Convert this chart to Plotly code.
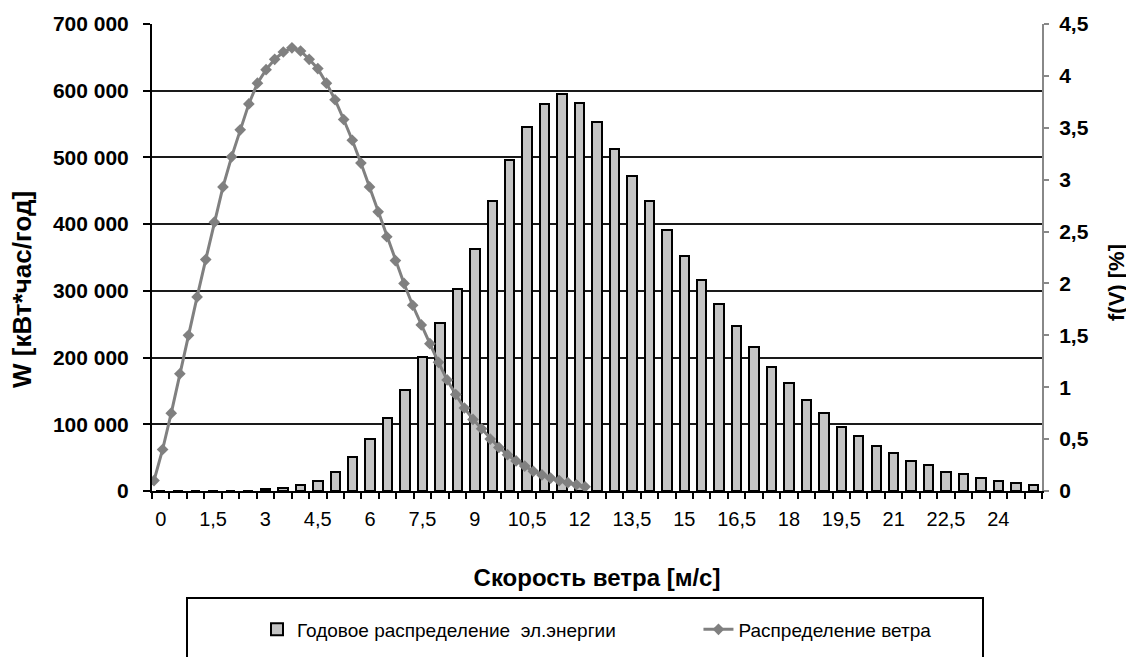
import plotly.graph_objects as go

# ---- data ----
wind_speed = [i * 0.5 for i in range(51)]  # 0 .. 25 m/s
energy_kwh = [0, 0, 0, 0, 0, 0, 2500, 4000, 9000, 15000,
              29000, 51000, 78000, 110000, 151500, 201500, 251500, 302500, 362500, 434000,
              496500, 545500, 580500, 595500, 581500, 552500, 513000, 472500, 434000, 391500,
              353000, 317000, 280500, 248000, 215500, 186500, 162500, 136500, 116500, 96500,
              82500, 68000, 57500, 45500, 39000, 29000, 25500, 19000, 15000, 11500,
              9000]
wind_freq_pct = [0.10, 0.40, 0.75, 1.13, 1.50, 1.87, 2.23, 2.59, 2.93, 3.22,
                 3.48, 3.73, 3.93, 4.06, 4.16, 4.23, 4.27, 4.24, 4.16, 4.07,
                 3.93, 3.77, 3.58, 3.38, 3.16, 2.93, 2.69, 2.45, 2.22, 2.00,
                 1.79, 1.60, 1.42, 1.24, 1.07, 0.93, 0.80, 0.69, 0.60, 0.50,
                 0.42, 0.35, 0.29, 0.24, 0.19, 0.155, 0.125, 0.10, 0.08, 0.06,
                 0.04]
x_tick_vals = [0, 1.5, 3, 4.5, 6, 7.5, 9, 10.5, 12, 13.5, 15, 16.5, 18, 19.5, 21, 22.5, 24]

name_bar = "Годовое распределение  эл.энергии"
name_line = "Распределение ветра"

FONT = "Liberation Sans, Arial, sans-serif"
NARROW = "Liberation Sans Narrow, Arial Narrow, Liberation Sans, Arial, sans-serif"

fig = go.Figure()
fig.add_trace(go.Bar(
    x=wind_speed, y=energy_kwh, name=name_bar, width=0.27,
    marker=dict(color="#c4c4c4", line=dict(color="#000000", width=2)),
    xaxis="x", yaxis="y", legend="legend",
))
fig.add_trace(go.Scatter(
    x=wind_speed, y=wind_freq_pct, name=name_line, mode="lines+markers",
    line=dict(color="#808080", width=3),
    marker=dict(symbol="diamond", size=9, color="#808080"),
    xaxis="x2", yaxis="y2", legend="legend2",
))

# page body has an 8px margin, so the figure is shrunk by 8px
fig.update_layout(
    width=1126, height=649,
    margin=dict(l=144, r=92, t=16, b=166, autoexpand=False),
    paper_bgcolor="white", plot_bgcolor="white",
    separators=", ",
    font=dict(family=FONT, color="#000000"),
    bargap=0,
    xaxis=dict(
        range=[-0.25, 25.25], tickmode="array", tickvals=x_tick_vals,
        ticks="", showgrid=False, zeroline=False, automargin=False,
        showline=True, linecolor="#000000", linewidth=2,
        tickfont=dict(size=20, family=FONT),
        ticklabelstandoff=9,
        minor=dict(tick0=-0.25, dtick=0.5, ticks="outside", ticklen=6,
                   tickcolor="#000000", tickwidth=1.5, showgrid=False),
        title=dict(text="<b>Скорость ветра [м/с]</b>", font=dict(size=24, family=FONT), standoff=40),
    ),
    xaxis2=dict(range=[-0.116, 51.5], overlaying="x", visible=False, anchor="y2", automargin=False),
    yaxis=dict(
        range=[0, 700000], dtick=100000, tick0=0, automargin=False,
        exponentformat="none", separatethousands=True,
        ticks="outside", ticklen=7, tickcolor="#000000", tickwidth=1.5,
        ticklabelstandoff=10,
        showgrid=True, gridcolor="#1a1a1a", gridwidth=1.5, zeroline=False,
        showline=True, linecolor="#000000", linewidth=2,
        tickfont=dict(size=21, family=FONT, weight="bold"),
    ),
    yaxis2=dict(
        range=[0, 4.5], dtick=0.5, tick0=0, overlaying="y", side="right", anchor="x",
        automargin=False,
        ticks="outside", ticklen=5, tickcolor="#888888", tickwidth=1.5,
        ticklabelstandoff=6,
        showgrid=False, zeroline=False,
        showline=True, linecolor="#888888", linewidth=2,
        tickfont=dict(size=21, family=FONT, weight="bold"),
    ),
    legend=dict(x=0.118, y=-0.2965, xanchor="left", yanchor="middle",
                orientation="h", bgcolor="rgba(0,0,0,0)", borderwidth=0,
                font=dict(size=19, family=NARROW)),
    legend2=dict(x=0.614, y=-0.2965, xanchor="left", yanchor="middle",
                 orientation="h", bgcolor="rgba(0,0,0,0)", borderwidth=0,
                 font=dict(size=19, family=NARROW)),
    showlegend=True,
)

# axis titles placed as annotations (offset like the original)
fig.add_annotation(
    text="<b>W [кВт*час/год]</b>", textangle=-90,
    xref="paper", yref="paper", x=(22 - 152) / 890, y=(491 - 290) / 467,
    xanchor="center", yanchor="middle", showarrow=False,
    font=dict(size=26, family=FONT, color="#000000"),
)
fig.add_annotation(
    text="<b>f(V) [%]</b>", textangle=-90,
    xref="paper", yref="paper", x=(1116 - 152) / 890, y=(491 - 283) / 467,
    xanchor="center", yanchor="middle", showarrow=False,
    font=dict(size=22, family=FONT, color="#000000"),
)

# legend frame
fig.add_shape(
    type="rect", xref="paper", yref="paper",
    x0=(187 - 152) / 890, x1=(983 - 152) / 890,
    y0=(491 - 598) / 467, y1=(491 - 670) / 467,
    line=dict(color="#000000", width=2), fillcolor="rgba(0,0,0,0)", layer="above",
)

fig.write_html("out.html")
